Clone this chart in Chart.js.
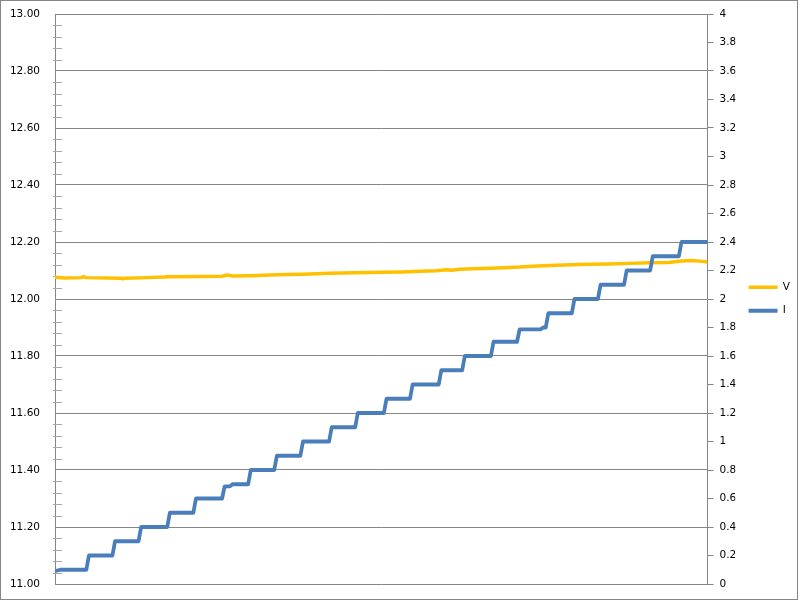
<!DOCTYPE html>
<html>
<head>
<meta charset="utf-8">
<title>V / I</title>
<script src="https://cdn.jsdelivr.net/npm/chart.js@4.4.1/dist/chart.umd.min.js"></script>
<style>
  html, body { margin: 0; padding: 0; background: #fff; }
  canvas { display: block; }
</style>
</head>
<body>
<canvas id="chart" width="800" height="601"></canvas>
<script>
// ── Data (sample index on x) ──
const voltTime = [0, 4, 10, 11, 12, 20, 25, 26, 27, 35, 42, 43, 45, 55, 64, 66, 68, 75, 85, 95, 105, 115, 125, 133, 140, 146, 150, 152, 155, 160, 167, 172, 178, 185, 192, 198, 205, 212, 220, 228, 235, 240, 244, 248, 250];
const voltValues = [12.076, 12.074, 12.075, 12.078, 12.075, 12.074, 12.073, 12.071, 12.073, 12.075, 12.077, 12.079, 12.078, 12.079, 12.080, 12.084, 12.081, 12.082, 12.085, 12.087, 12.090, 12.092, 12.094, 12.095, 12.097, 12.099, 12.103, 12.101, 12.104, 12.106, 12.108, 12.110, 12.112, 12.116, 12.118, 12.120, 12.122, 12.123, 12.125, 12.127, 12.128, 12.133, 12.135, 12.132, 12.130];

const ampTime = [0, 2, 12, 13, 22, 23, 32, 33, 43, 44, 53, 54, 64, 65, 67, 68, 74, 75, 84, 85, 94, 95, 105, 106, 115, 116, 126, 127, 136, 137, 147, 148, 156, 157, 167, 168, 177, 178, 186, 187, 188, 189, 198, 199, 208, 209, 218, 219, 228, 229, 239, 240, 250];
const ampValues = [0.09, 0.10, 0.10, 0.20, 0.20, 0.30, 0.30, 0.40, 0.40, 0.50, 0.50, 0.60, 0.60, 0.685, 0.685, 0.70, 0.70, 0.80, 0.80, 0.90, 0.90, 1.00, 1.00, 1.10, 1.10, 1.20, 1.20, 1.30, 1.30, 1.40, 1.40, 1.50, 1.50, 1.60, 1.60, 1.70, 1.70, 1.787, 1.787, 1.80, 1.80, 1.90, 1.90, 2.00, 2.00, 2.10, 2.10, 2.20, 2.20, 2.30, 2.30, 2.40, 2.40];

const voltTicks = [11.0, 11.2, 11.4, 11.6, 11.8, 12.0, 12.2, 12.4, 12.6, 12.8, 13.0];
const ampTicks = [0, 0.2, 0.4, 0.6, 0.8, 1, 1.2, 1.4, 1.6, 1.8, 2, 2.2, 2.4, 2.6, 2.8, 3, 3.2, 3.4, 3.6, 3.8, 4];
const seriesNames = ['V', 'I'];

const GRID = '#868686';
const FONT = { family: 'DejaVu Sans', size: 10.5 };

// minor ticks on the voltage axis, 5 divisions per major step
const voltMinor = [];
for (let i = 0; i < voltTicks.length - 1; i++) {
  const step = (voltTicks[i + 1] - voltTicks[i]) / 5;
  for (let k = 1; k < 5; k++) voltMinor.push(voltTicks[i] + k * step);
}

const minorTicks = {
  id: 'minorTicks',
  beforeDatasetsDraw(chart) {
    const s = chart.scales.y, ctx = chart.ctx;
    ctx.save();
    ctx.strokeStyle = '#a8a8a8';
    ctx.lineWidth = 1;
    voltMinor.forEach(v => {
      const y = Math.round(s.getPixelForValue(v)) + 0.5;
      ctx.beginPath();
      ctx.moveTo(s.right - 2, y);
      ctx.lineTo(s.right + 7, y);
      ctx.stroke();
    });
    ctx.restore();
  }
};

const outerBorder = {
  id: 'outerBorder',
  afterDraw(chart) {
    const ctx = chart.ctx;
    ctx.save();
    ctx.strokeStyle = GRID;
    ctx.lineWidth = 1;
    ctx.strokeRect(0.5, 0.5, chart.width - 3, chart.height - 2);
    ctx.restore();
  }
};

new Chart(document.getElementById('chart'), {
  type: 'line',
  data: {
    datasets: [
      {
        label: seriesNames[0],
        data: voltTime.map((t, i) => ({ x: t, y: voltValues[i] })),
        yAxisID: 'y',
        borderColor: '#FFC000',
        backgroundColor: '#FFC000',
        borderWidth: 3.5,
        order: 1
      },
      {
        label: seriesNames[1],
        data: ampTime.map((t, i) => ({ x: t, y: ampValues[i] })),
        yAxisID: 'y1',
        borderColor: '#4A7EBB',
        backgroundColor: '#4A7EBB',
        borderWidth: 3.8,
        order: 0
      }
    ]
  },
  options: {
    responsive: false,
    animation: false,
    events: [],
    layout: { padding: { left: 0, right: 0, top: 14, bottom: 17 } },
    elements: {
      point: { radius: 0 },
      line: { tension: 0, borderJoinStyle: 'round', borderCapStyle: 'butt' }
    },
    plugins: {
      tooltip: { enabled: false },
      legend: {
        position: 'right',
        labels: {
          usePointStyle: true,
          pointStyle: 'line',
          pointStyleWidth: 29,
          color: '#000',
          font: FONT,
          padding: 13,
          sort: (a, b) => a.datasetIndex - b.datasetIndex
        }
      }
    },
    scales: {
      x: { type: 'linear', min: 0, max: 250, display: false },
      y: {
        position: 'left',
        min: 11, max: 13,
        afterBuildTicks: s => { s.ticks = voltTicks.map(v => ({ value: v })); },
        afterFit: s => { s.width = 55; },
        grid: { color: GRID, lineWidth: 1, drawTicks: true, tickLength: 9, tickColor: 'rgba(0,0,0,0)' },
        border: { color: GRID },
        ticks: { color: '#000', font: FONT, padding: 6, callback: v => v.toFixed(2) }
      },
      y1: {
        position: 'right',
        min: 0, max: 4,
        afterBuildTicks: s => { s.ticks = ampTicks.map(v => ({ value: v })); },
        afterFit: s => { s.width = 28; },
        grid: { drawOnChartArea: false, drawTicks: true, tickLength: 6, color: GRID },
        border: { color: GRID },
        ticks: { color: '#000', font: FONT, padding: 6, callback: v => String(+v.toFixed(1)) }
      }
    }
  },
  plugins: [minorTicks, outerBorder]
});
</script>
</body>
</html>
